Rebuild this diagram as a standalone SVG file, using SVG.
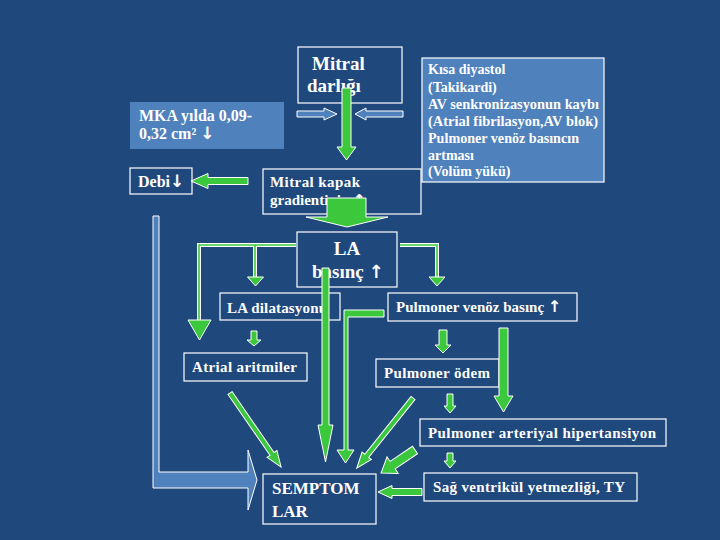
<svg xmlns="http://www.w3.org/2000/svg" width="720" height="540" viewBox="0 0 720 540">
<style>
.bg{fill:#1F487C}
.box{fill:none;stroke:#fff;stroke-width:1.2}
.fbox{fill:#4F81BD;stroke:none}
.fboxw{fill:#4F81BD;stroke:#fff;stroke-width:1.2}
.t{font-family:"Liberation Serif","Times New Roman",serif;font-weight:bold;fill:#fff}
.ar{font-family:"DejaVu Sans",sans-serif;font-weight:bold}
.g{fill:#3CC83C;stroke:#fff;stroke-width:1}
.b{fill:#4F81BD;stroke:#fff;stroke-width:1}
.lw{fill:none;stroke:#fff;stroke-width:4}
.lg{fill:none;stroke:#3CC83C;stroke-width:1.6}
</style>
<rect class="bg" x="0" y="0" width="720" height="540"/>

<g id="mitral-darligi">
<rect class="box" x="298" y="47" width="104" height="56"/>
<text class="t" x="312" y="70" font-size="19">Mitral</text>
<text class="t" x="307" y="92" font-size="19">darlığı</text>
</g>

<g id="mka">
<rect class="fbox" x="130" y="102" width="154" height="47"/>
<text class="t" x="139" y="121" font-size="16" textLength="113" lengthAdjust="spacingAndGlyphs">MKA yılda 0,09-</text>
<text class="t" x="139" y="139" font-size="16">0,32 cm² <tspan class="ar" font-size="17">↓</tspan></text>
</g>

<g id="debi">
<rect class="box" x="130" y="168" width="62" height="26"/>
<text class="t" x="138" y="187" font-size="16">Debi<tspan class="ar" font-size="17">↓</tspan></text>
</g>

<g id="mitral-kapak">
<rect class="box" x="263" y="169" width="158" height="45"/>
<text class="t" x="270" y="187" font-size="15" textLength="90" lengthAdjust="spacing">Mitral kapak</text>
<text class="t" x="270" y="205" font-size="15">gradientinin <tspan class="ar" font-size="15">↑</tspan></text>
</g>

<g id="kisa-diyastol">
<rect class="fboxw" x="422" y="58" width="182" height="124"/>
<g class="t" font-size="14">
<text x="428" y="74">Kısa diyastol</text>
<text x="428" y="92">(Takikardi)</text>
<text x="428" y="109" textLength="171" lengthAdjust="spacingAndGlyphs">AV senkronizasyonun kaybı</text>
<text x="428" y="126" textLength="170" lengthAdjust="spacingAndGlyphs">(Atrial fibrilasyon,AV blok)</text>
<text x="428" y="143" textLength="151" lengthAdjust="spacingAndGlyphs">Pulmoner venöz basıncın</text>
<text x="428" y="160">artması</text>
<text x="428" y="176">(Volüm yükü)</text>
</g>
</g>

<g id="la-basinc">
<rect class="box" x="297" y="232" width="100" height="55"/>
<text class="t" x="347" y="255" font-size="19" text-anchor="middle">LA</text>
<text class="t" x="312" y="278" font-size="19">basınç <tspan class="ar" font-size="18">↑</tspan></text>
</g>

<g id="la-dilatasyonu">
<rect class="box" x="220" y="293" width="120" height="27"/>
<text class="t" x="227" y="313" font-size="15" textLength="100" lengthAdjust="spacing">LA dilatasyonu</text>
</g>

<g id="atrial-aritmiler">
<rect class="box" x="184" y="353" width="123" height="28"/>
<text class="t" x="192" y="372" font-size="15" textLength="105" lengthAdjust="spacing">Atrial aritmiler</text>
</g>

<g id="pulmoner-venoz">
<rect class="box" x="388" y="293" width="189" height="28"/>
<text class="t" x="396" y="312" font-size="15">Pulmoner venöz basınç <tspan class="ar" font-size="16">↑</tspan></text>
</g>

<g id="pulmoner-odem">
<rect class="box" x="376" y="359" width="123" height="28"/>
<text class="t" x="384" y="378" font-size="15" textLength="106" lengthAdjust="spacing">Pulmoner ödem</text>
</g>

<g id="pulmoner-arteriyal">
<rect class="box" x="420" y="419" width="246" height="27"/>
<text class="t" x="428" y="438" font-size="15" textLength="228" lengthAdjust="spacing">Pulmoner arteriyal hipertansiyon</text>
</g>

<g id="sag-ventrikul">
<rect class="box" x="424" y="473" width="213" height="28"/>
<text class="t" x="433" y="492" font-size="15" textLength="192" lengthAdjust="spacing">Sağ ventrikül yetmezliği, TY</text>
</g>

<g id="semptomlar">
<rect class="box" x="263" y="474" width="113" height="50"/>
<text class="t" x="272" y="494" font-size="17">SEMPTOM</text>
<text class="t" x="272" y="517" font-size="17">LAR</text>
</g>

<g id="connectors">
<polygon class="b" points="297,111 324,111 324,108 337,114 324,120 324,117 297,117"/>
<polygon class="b" points="403,111 366,111 366,108 355,114 366,120 366,117 403,117"/>
<polygon class="g" points="342,88 351,88 351,147 356,147 346.5,160 337,147 342,147"/>
<polygon class="g" points="248,177.5 208,177.5 208,173.5 191,181 208,188.5 208,184.5 248,184.5"/>
<polygon class="g" points="327,198 366,198 366,217 388,217 347,227 306,217 327,217"/>
<polyline class="lw" points="296,245 199,245 199,321"/>
<line class="lw" x1="255" y1="245" x2="255" y2="278"/>
<polyline class="lg" points="296,245 199,245 199,321"/>
<line class="lg" x1="255" y1="245" x2="255" y2="278"/>
<polygon class="g" points="188,320 211,320 199.5,340"/>
<polygon class="g" points="247.5,277 263.5,277 255.5,286"/>
<polyline class="lw" points="400,245 437,245 437,278"/>
<polyline class="lg" points="400,245 437,245 437,278"/>
<polygon class="g" points="429,277 445,277 437,286"/>
<polygon class="g" points="251,331 257,331 257,340 261,340 254,346 247,340 251,340"/>
<polygon class="g" points="322,268 329,268 329,425 333,425 325.5,462 318,425 322,425"/>
<polygon class="g" points="384,310 344,310 344,450 337,450 345.5,463 354,450 348,450 348,317 384,317"/>
<polygon class="g" points="439,330 447,330 447,345 451,345 443,353 435,345 439,345"/>
<polygon class="g" points="499,328 508,328 508,396 513,396 503.5,412 494,396 499,396"/>
<polygon class="g" points="447,394 453,394 453,406 456,406 450,413 444,406 447,406"/>
<polygon class="g" points="447,453 453,453 453,461 456,461 450,468 444,461 447,461"/>
<polygon class="g" points="422,488.5 392,488.5 392,485.5 378,492 392,498.5 392,495.5 422,495.5"/>
<polygon class="g" transform="translate(230,393) rotate(55.4)" points="0,-2.5 74,-2.5 74,-6 90,0 74,6 74,2.5 0,2.5"/>
<polygon class="g" transform="translate(413,398) rotate(128.7)" points="0,-2.5 74,-2.5 74,-6 90,0 74,6 74,2.5 0,2.5"/>
<polygon class="g" transform="translate(415,450) rotate(145.9)" points="0,-4.5 27,-4.5 27,-10 41,0 27,10 27,4.5 0,4.5"/>
<polygon class="b" points="153,216 159,216 159,472 248,472 248,450 257,480 248,510 248,488 153,488"/>
</g>
</svg>
